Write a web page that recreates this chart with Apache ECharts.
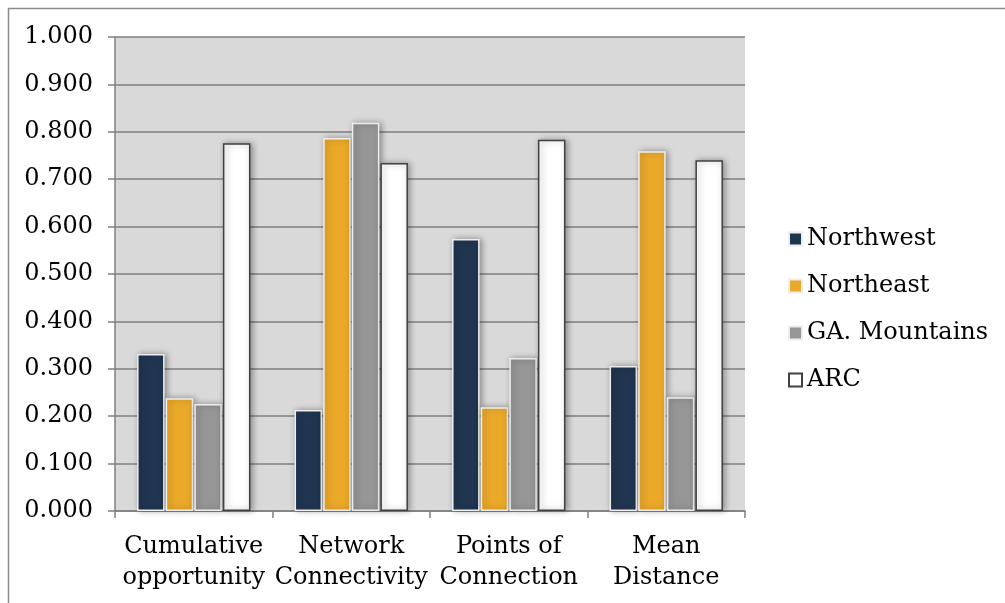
<!DOCTYPE html>
<html>
<head>
<meta charset="utf-8">
<script src="https://cdn.jsdelivr.net/npm/echarts@6/dist/echarts.min.js"></script>
<style>
  html, body { margin: 0; padding: 0; background: #fff; }
  #chart { width: 1005px; height: 603px; }
</style>
</head>
<body>
<div id="chart"></div>
<script>
// Accessibility measures by region
const categories = ['Cumulative\nopportunity', 'Network\nConnectivity', 'Points of\nConnection', 'Mean\nDistance'];
const northwest = [0.331, 0.213, 0.574, 0.306];
const northeast = [0.238, 0.787, 0.219, 0.759];
const mountains = [0.226, 0.819, 0.323, 0.240];
const arc = [0.776, 0.734, 0.783, 0.740];
const seriesNames = ['Northwest', 'Northeast', 'GA. Mountains', 'ARC'];

const FONT = 'DejaVu Serif';
const shadow = { shadowBlur: 6, shadowColor: 'rgba(0,0,0,0.35)', shadowOffsetX: 2, shadowOffsetY: 0 };

function barSeries(name, data, color, border) {
  return {
    name: name,
    type: 'bar',
    data: data,
    barGap: '4%',
    barCategoryGap: '28%',
    itemStyle: Object.assign({ color: color, borderColor: border, borderWidth: 1.5 }, shadow)
  };
}

const chart = echarts.init(document.getElementById('chart'));
chart.setOption({
  animation: false,
  backgroundColor: '#ffffff',
  textStyle: { fontFamily: FONT },
  graphic: [{
    type: 'polyline',
    shape: { points: [[8.5, 603], [8.5, 8.5], [1005, 8.5]] },
    style: { stroke: '#8c8c8c', lineWidth: 1.5, fill: null },
    silent: true
  }],
  grid: {
    left: 115, right: 260, top: 37, bottom: 92,
    show: true, backgroundColor: '#d9d9d9', borderWidth: 0
  },
  legend: {
    orient: 'vertical',
    left: 783, top: 222,
    itemWidth: 13, itemHeight: 13,
    itemGap: 23,
    icon: 'rect',
    textStyle: { fontFamily: FONT, fontSize: 24, color: '#000' },
    data: seriesNames
  },
  xAxis: {
    type: 'category',
    data: categories,
    axisLine: { show: true, lineStyle: { color: '#808080', width: 1.5 } },
    axisTick: { show: true, length: 7, lineStyle: { color: '#808080', width: 1.5 } },
    axisLabel: { fontFamily: FONT, fontSize: 24, color: '#000', lineHeight: 31, margin: 20, interval: 0 }
  },
  yAxis: {
    type: 'value',
    min: 0, max: 1, interval: 0.1,
    axisLine: { show: true, lineStyle: { color: '#808080', width: 1.5 } },
    axisTick: { show: true, length: 7, lineStyle: { color: '#808080', width: 1.5 } },
    splitLine: { show: true, lineStyle: { color: '#7f7f7f', width: 1.5 } },
    axisLabel: {
      fontFamily: FONT, fontSize: 24, color: '#000', margin: 22,
      formatter: v => v.toFixed(3)
    }
  },
  series: [
    barSeries(seriesNames[0], northwest, '#203550', '#eeeeee'),
    barSeries(seriesNames[1], northeast, '#eba92a', '#eeeeee'),
    barSeries(seriesNames[2], mountains, '#969696', '#eeeeee'),
    barSeries(seriesNames[3], arc, '#ffffff', '#404040')
  ]
});
</script>
</body>
</html>
